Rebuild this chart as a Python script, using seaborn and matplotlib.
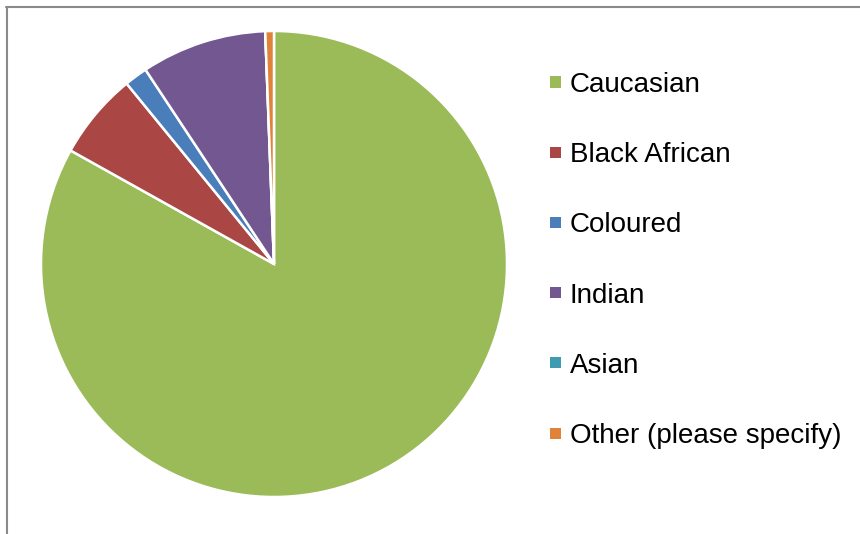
import matplotlib
matplotlib.use("Agg")
import matplotlib.pyplot as plt
from matplotlib.patches import Rectangle
from matplotlib.lines import Line2D
import seaborn as sns

categories = ["Caucasian", "Black African", "Coloured", "Indian", "Asian", "Other (please specify)"]
values = [83.1, 6.0, 1.6, 8.7, 0.0, 0.6]
colors = ["#9BBB59", "#AA4643", "#4A7EBB", "#735791", "#3E9BB2", "#E0823A"]

sns.set_theme(style="white")
plt.rcParams["font.family"] = ["Liberation Sans", "DejaVu Sans"]
palette = sns.color_palette(colors)

W, H = 860, 534
fig = plt.figure(figsize=(W / 100, H / 100), dpi=100)
fig.patch.set_facecolor("white")

cx, cy, r = 274, 264, 233
ax = fig.add_axes([(cx - r) / W, (H - cy - r) / H, 2 * r / W, 2 * r / H])
ax.pie(values, colors=palette, startangle=90, counterclock=False,
       wedgeprops=dict(edgecolor="white", linewidth=1.8))
ax.set_xlim(-1, 1)
ax.set_ylim(-1, 1)
ax.set_aspect("equal")
ax.axis("off")

# legend
row0, step = 82, 70.2
for i, (lab, col) in enumerate(zip(categories, palette)):
    yc = row0 + i * step
    fig.patches.append(Rectangle((550 / W, 1 - (yc + 5.5) / H), 11 / W, 11 / H,
                                 transform=fig.transFigure, facecolor=col,
                                 edgecolor="none"))
    fig.text(570 / W, 1 - (yc + 10) / H, lab, fontsize=20, color="black",
             ha="left", va="baseline")

# chart frame (partially visible)
fig.add_artist(Line2D([6 / W, 1], [1 - 7 / H, 1 - 7 / H], transform=fig.transFigure,
                      color="#8a8a8a", lw=1.5))
fig.add_artist(Line2D([7 / W, 7 / W], [0, 1 - 7 / H], transform=fig.transFigure,
                      color="#8a8a8a", lw=1.5))

fig.savefig("out.png", dpi=100, facecolor="white")
